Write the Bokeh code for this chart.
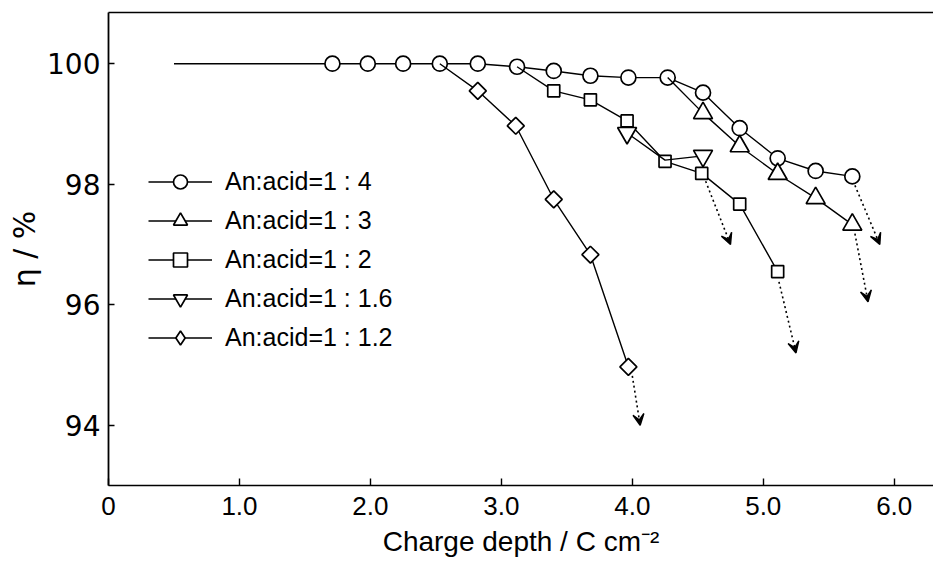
from bokeh.plotting import figure
from bokeh.models import (LinearAxis, FixedTicker, Range1d, Legend, LegendItem,
                          Arrow, VeeHead)
from bokeh.embed import file_html
from bokeh.resources import INLINE

# Current efficiency (eta, %) versus charge depth (C cm^-2) for several
# aniline : acid ratios.  The first point of some series is only where
# its line leaves another curve, so it carries no marker.
ratio_labels = ["An:acid=1 : 4", "An:acid=1 : 3", "An:acid=1 : 2",
                "An:acid=1 : 1.6", "An:acid=1 : 1.2"]

depth_1_4 = [0.50, 1.71, 1.98, 2.25, 2.53, 2.82, 3.12, 3.40, 3.68, 3.97,
             4.27, 4.54, 4.82, 5.11, 5.40, 5.68]
eta_1_4 = [100.0, 100.0, 100.0, 100.0, 100.0, 100.0, 99.95, 99.88, 99.80,
           99.77, 99.77, 99.52, 98.93, 98.43, 98.22, 98.13]
mark_1_4 = [False] + [True] * 15

depth_1_3 = [4.27, 4.54, 4.82, 5.11, 5.40, 5.68]
eta_1_3 = [99.77, 99.18, 98.63, 98.17, 97.77, 97.33]
mark_1_3 = [False, True, True, True, True, True]

depth_1_2 = [3.12, 3.40, 3.68, 3.96, 4.25, 4.53, 4.82, 5.11]
eta_1_2 = [99.95, 99.55, 99.40, 99.05, 98.38, 98.18, 97.67, 96.55]
mark_1_2 = [False, True, True, True, True, True, True, True]

depth_1_16 = [3.96, 4.25, 4.54]
eta_1_16 = [98.85, 98.40, 98.47]
mark_1_16 = [True, False, True]

depth_1_12 = [2.53, 2.82, 3.11, 3.40, 3.68, 3.97]
eta_1_12 = [100.0, 99.55, 98.97, 97.75, 96.83, 94.97]
mark_1_12 = [False, True, True, True, True, True]

# dotted arrows showing where each curve keeps falling
arrow_depth_start = [5.70, 5.70, 5.12, 4.56, 4.00]
arrow_eta_start = [97.98, 97.18, 96.38, 98.05, 94.82]
arrow_depth_end = [5.89, 5.80, 5.25, 4.75, 4.06]
arrow_eta_end = [97.00, 96.05, 95.20, 97.00, 94.00]

x_ticks = [0, 1, 2, 3, 4, 5, 6]
x_tick_text = ["0", "1.0", "2.0", "3.0", "4.0", "5.0", "6.0"]
y_ticks = [94, 96, 98, 100]

NUM_FONT = "DejaVu Sans"
TXT_FONT = "Liberation Sans"
NARROW_FONT = "Liberation Sans Narrow, Liberation Sans, sans-serif"

p = figure(width=933, height=575, x_range=Range1d(0, 6.3),
           y_range=Range1d(93.0, 100.85), output_backend="svg",
           toolbar_location=None, min_border_left=108, min_border_right=0,
           min_border_top=12, min_border_bottom=90)
p.outline_line_color = None
p.grid.visible = False
p.background_fill_color = "white"
p.border_fill_color = "white"

# bottom axis
xa = p.xaxis[0]
xa.ticker = FixedTicker(ticks=x_ticks)
xa.major_label_overrides = {t: s for t, s in zip(x_ticks, x_tick_text)}
xa.major_tick_in = 7
xa.major_tick_out = 0
xa.minor_tick_line_color = None
xa.axis_line_width = 1.6
xa.major_tick_line_width = 1.4
xa.major_label_standoff = 11
xa.major_label_text_font = NARROW_FONT
xa.major_label_text_font_size = "26px"
xa.major_label_text_color = "black"
xa.axis_label = "Charge depth / C cm\u207b\u00b2"
xa.axis_label_text_font = TXT_FONT
xa.axis_label_text_font_size = "28px"
xa.axis_label_text_font_style = "normal"
xa.axis_label_text_color = "black"
xa.axis_label_standoff = 8

# left axis
ya = p.yaxis[0]
ya.ticker = FixedTicker(ticks=y_ticks)
ya.major_tick_in = 6
ya.major_tick_out = 0
ya.minor_tick_line_color = None
ya.axis_line_width = 1.8
ya.major_tick_line_width = 1.4
ya.major_label_standoff = 8
ya.major_label_text_font = NUM_FONT
ya.major_label_text_font_size = "28px"
ya.major_label_text_color = "black"
ya.axis_label = "\u03b7 / %"
ya.axis_label_text_font = NUM_FONT
ya.axis_label_text_font_size = "30px"
ya.axis_label_text_font_style = "normal"
ya.axis_label_text_color = "black"
ya.axis_label_standoff = 2

# plain top frame line
top = LinearAxis(ticker=FixedTicker(ticks=[]), axis_line_width=1.6,
                 major_tick_line_color=None, minor_tick_line_color=None)
p.add_layout(top, "above")

LINE_W = 1.4
MARK_W = 1.7

# (x, y, marker mask, plotted marker, size, angle, legend key marker)
series = [
    (depth_1_4, eta_1_4, mark_1_4, "circle", 15, 0, None),
    (depth_1_3, eta_1_3, mark_1_3, "triangle", 19, 0, None),
    (depth_1_2, eta_1_2, mark_1_2, "square", 12, 0, None),
    (depth_1_16, eta_1_16, mark_1_16, "inverted_triangle", 19, 0, None),
    (depth_1_12, eta_1_12, mark_1_12, "square", 12, 0.785398, "diamond"),
]

items = []
for (xs, ys, mask, marker, size, ang, key_marker), label in zip(series, ratio_labels):
    lr = p.line(xs, ys, line_color="black", line_width=LINE_W)
    mx = [x for x, m in zip(xs, mask) if m]
    my = [y for y, m in zip(ys, mask) if m]
    key = None
    if key_marker is not None:
        # legend keys ignore marker rotation; this unrotated glyph sits
        # beneath the rotated squares and only shows up in the legend
        key = p.scatter(mx, my, marker=key_marker, size=14,
                        fill_color="white", line_color="black",
                        line_width=MARK_W)
    sr = p.scatter(mx, my, marker=marker, size=size, angle=ang,
                   fill_color="white", line_color="black",
                   line_width=MARK_W)
    items.append(LegendItem(label=label, renderers=[lr, key or sr]))

for x0, y0, x1, y1 in zip(arrow_depth_start, arrow_eta_start,
                          arrow_depth_end, arrow_eta_end):
    p.add_layout(Arrow(x_start=x0, y_start=y0, x_end=x1, y_end=y1,
                       line_color="black", line_width=1.6,
                       line_dash="2 3",
                       end=VeeHead(size=11, line_color="black",
                                   line_width=1.4)))

legend = Legend(items=items, location=(40, 130), padding=0, margin=0,
                spacing=4, glyph_width=64, glyph_height=35,
                label_height=35, label_standoff=13,
                label_text_font=TXT_FONT, label_text_font_size="25px",
                label_text_color="black", border_line_color=None,
                background_fill_alpha=0)
p.add_layout(legend)

open("out.html", "w").write(file_html(p, INLINE))
